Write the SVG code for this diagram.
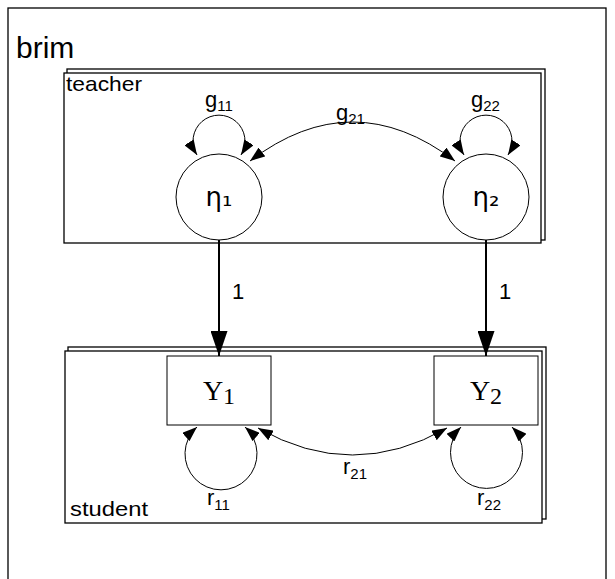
<svg xmlns="http://www.w3.org/2000/svg" width="615" height="579" viewBox="0 0 615 579">
<style>
.frame{fill:#fff;stroke:#000;stroke-width:1.3}
.plate{fill:#fff;stroke:#000;stroke-width:1.3}
.node{fill:#fff;stroke:#000;stroke-width:1}
.cov{fill:none;stroke:#000;stroke-width:1}
.reg{fill:none;stroke:#000;stroke-width:2}
.sans{font-family:"Liberation Sans",Arial,sans-serif;fill:#000}
.serif{font-family:"Liberation Serif","Times New Roman",serif;fill:#000}
.greek{font-family:"DejaVu Sans","Liberation Sans",sans-serif;fill:#000}
</style>
<defs>
<marker id="big" viewBox="0 0 25 17" refX="25" refY="8.5" markerWidth="25" markerHeight="17" markerUnits="userSpaceOnUse" orient="auto">
<path d="M0,0 L25,8.5 L0,17 Z" fill="#000"/>
</marker>
<marker id="small" viewBox="0 0 15 11" refX="15" refY="5.5" markerWidth="15" markerHeight="11" markerUnits="userSpaceOnUse" orient="auto-start-reverse">
<path d="M0,0 L15,5.5 L0,11 Z" fill="#000"/>
</marker>
</defs>
<rect width="615" height="579" fill="#fff"/>
<g id="brim">
<rect class="frame" x="8" y="8" width="598" height="590"/>
<text class="sans" x="16" y="58" font-size="30">brim</text>
</g>
<g id="teacher">
<rect class="plate" x="67" y="69" width="478" height="171"/>
<rect class="plate" x="64" y="73" width="477" height="170"/>
<text class="sans" x="66" y="91" font-size="21" textLength="76" lengthAdjust="spacingAndGlyphs">teacher</text>
</g>
<g id="student">
<rect class="plate" x="68" y="347" width="478" height="172"/>
<rect class="plate" x="65" y="351" width="477" height="172"/>
<text class="sans" x="70" y="516" font-size="21" textLength="78" lengthAdjust="spacingAndGlyphs">student</text>
</g>
<g id="eta1">
<circle class="node" cx="219" cy="197" r="43"/>
<text class="greek" x="219" y="206" font-size="26" text-anchor="middle">η₁</text>
</g>
<g id="eta2">
<circle class="node" cx="486" cy="197" r="43"/>
<text class="greek" x="486" y="206" font-size="26" text-anchor="middle">η₂</text>
</g>
<g id="Y1">
<rect class="node" x="167" y="356" width="104" height="69"/>
<text class="serif" x="219" y="400" font-size="28" text-anchor="middle">Y<tspan font-size="24" dy="4">1</tspan></text>
</g>
<g id="Y2">
<rect class="node" x="434" y="356" width="104" height="69"/>
<text class="serif" x="486" y="400" font-size="28" text-anchor="middle">Y<tspan font-size="24" dy="4">2</tspan></text>
</g>
<g id="connectors">
<path class="reg" d="M219,240 L219,356" marker-end="url(#big)"/>
<path class="reg" d="M486,240 L486,356" marker-end="url(#big)"/>
<path class="cov" d="M197,155 A26,26 0 1 1 241,155" marker-start="url(#small)" marker-end="url(#small)"/>
<path class="cov" d="M464,155 A26,26 0 1 1 508,155" marker-start="url(#small)" marker-end="url(#small)"/>
<path class="cov" d="M250,161 Q352.5,83 455,161" marker-start="url(#small)" marker-end="url(#small)"/>
<path class="cov" d="M197,427 A36,36 0 1 0 245,427" marker-start="url(#small)" marker-end="url(#small)"/>
<path class="cov" d="M461,427 A36,36 0 1 0 512,427" marker-start="url(#small)" marker-end="url(#small)"/>
<path class="cov" d="M258,428 Q352.5,482 447,428" marker-start="url(#small)" marker-end="url(#small)"/>
</g>
<g id="labels">
<text class="sans" x="232" y="299" font-size="22">1</text>
<text class="sans" x="499" y="299" font-size="22">1</text>
<text class="sans" x="205" y="107" font-size="22">g<tspan font-size="15" dy="4">11</tspan></text>
<text class="sans" x="336" y="120" font-size="22">g<tspan font-size="15" dy="4">21</tspan></text>
<text class="sans" x="471" y="107" font-size="22">g<tspan font-size="15" dy="4">22</tspan></text>
<text class="sans" x="207" y="505" font-size="22">r<tspan font-size="15" dy="5">11</tspan></text>
<text class="sans" x="343" y="474" font-size="22">r<tspan font-size="15" dy="5">21</tspan></text>
<text class="sans" x="477" y="505" font-size="22">r<tspan font-size="15" dy="5">22</tspan></text>
</g>
</svg>
